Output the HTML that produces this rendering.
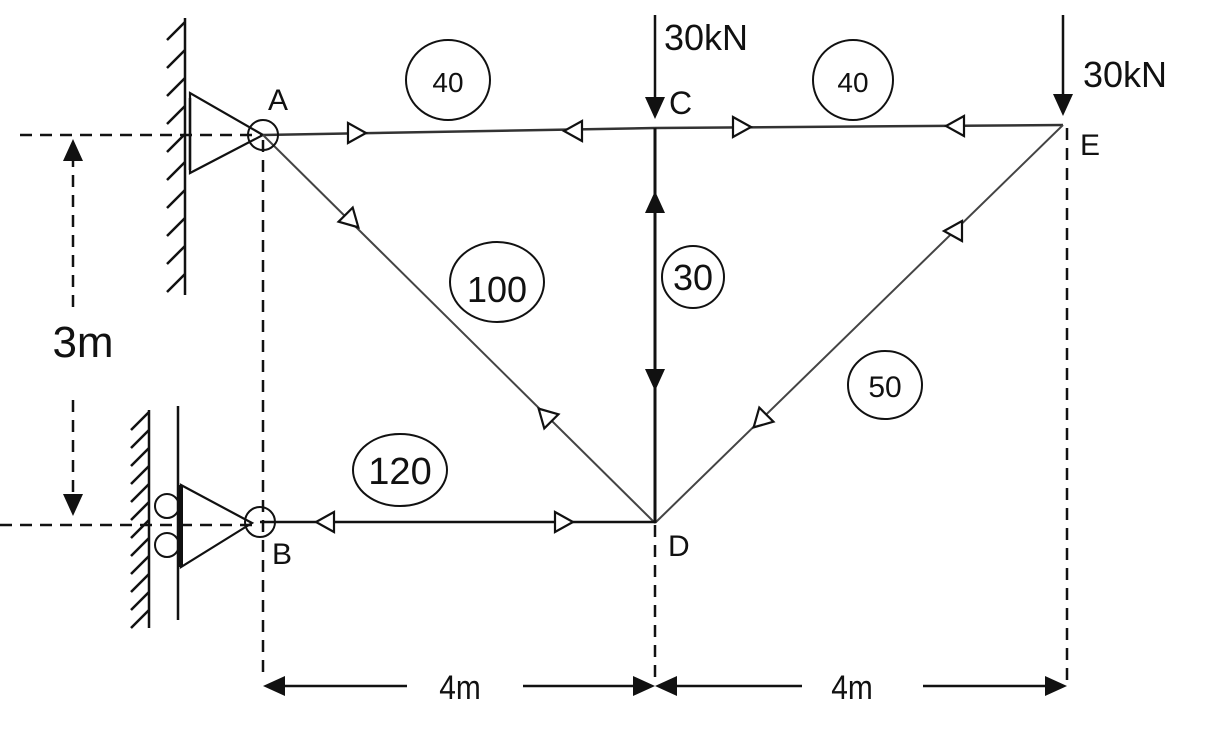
<!DOCTYPE html>
<html><head><meta charset="utf-8"><style>
html,body{margin:0;padding:0;background:#fff;}
svg{display:block;}
text{font-family:"Liberation Sans",sans-serif;fill:#111;}
</style></head><body>
<svg width="1205" height="732" viewBox="0 0 1205 732" xmlns="http://www.w3.org/2000/svg">
<defs>
<polygon id="ot" points="-9,-10 9,0 -9,10" fill="#fff" stroke="#111" stroke-width="2.2"/>
<polygon id="ft" points="-11,-10 11,0 -11,10" fill="#111"/>
</defs>
<g stroke="#111" stroke-width="2.5" stroke-dasharray="12,8" fill="none">
<line x1="20" y1="135" x2="263" y2="135"/>
<line x1="0" y1="525" x2="258" y2="525"/>
<line x1="263" y1="140" x2="263" y2="680"/>
<line x1="655" y1="525" x2="655" y2="680"/>
<line x1="1067" y1="128" x2="1067" y2="680"/>
<line x1="73" y1="155" x2="73" y2="310"/>
<line x1="73" y1="400" x2="73" y2="500"/>
</g>
<use href="#ft" transform="translate(73,150) rotate(-90)"/>
<use href="#ft" transform="translate(73,505) rotate(90)"/>
<text x="83" y="357" font-size="44" text-anchor="middle">3m</text>
<g stroke="#111" stroke-width="2.5">
<line x1="185" y1="18" x2="185" y2="295"/>
<path d="M185,22 l-18,18 M185,50 l-18,18 M185,78 l-18,18 M185,106 l-18,18 M185,134 l-18,18 M185,162 l-18,18 M185,190 l-18,18 M185,218 l-18,18 M185,246 l-18,18 M185,274 l-18,18"/>
<line x1="190" y1="98" x2="190" y2="170"/>
</g>
<polygon points="190,93 190,173 263,135" fill="none" stroke="#111" stroke-width="2.2"/>
<g stroke="#111" stroke-width="2.5">
<line x1="149" y1="410" x2="149" y2="628"/>
<path d="M149,412 l-18,18 M149,430 l-18,18 M149,448 l-18,18 M149,466 l-18,18 M149,484 l-18,18 M149,502 l-18,18 M149,520 l-18,18 M149,538 l-18,18 M149,556 l-18,18 M149,574 l-18,18 M149,592 l-18,18 M149,610 l-18,18"/>
<line x1="178" y1="406" x2="178" y2="620"/>
<line x1="181" y1="485" x2="181" y2="567" stroke-width="4"/>
</g>
<circle cx="167" cy="506" r="12" fill="none" stroke="#111" stroke-width="2"/>
<circle cx="167" cy="545" r="12" fill="none" stroke="#111" stroke-width="2"/>
<polygon points="181,485 181,567 252,523" fill="none" stroke="#111" stroke-width="2.2"/>
<g stroke="#333" stroke-width="2.5" fill="none">
<line x1="263" y1="135" x2="655" y2="128"/>
<line x1="655" y1="128" x2="1063" y2="125"/>
<line x1="263" y1="135" x2="655" y2="523" stroke="#444" stroke-width="2"/>
<line x1="1063" y1="125" x2="655" y2="523" stroke="#444" stroke-width="2"/>
<line x1="260" y1="522" x2="655" y2="522" stroke="#111"/>
<line x1="655" y1="128" x2="655" y2="523" stroke="#111" stroke-width="3"/>
</g>
<circle cx="263" cy="135" r="15" fill="none" stroke="#111" stroke-width="2"/>
<circle cx="260" cy="522" r="15" fill="none" stroke="#111" stroke-width="2"/>
<use href="#ot" transform="translate(357,133)"/>
<use href="#ot" transform="translate(573,131) rotate(180)"/>
<use href="#ot" transform="translate(742,127)"/>
<use href="#ot" transform="translate(955,126) rotate(180)"/>
<use href="#ot" transform="translate(325,522) rotate(180)"/>
<use href="#ot" transform="translate(564,522)"/>
<use href="#ot" transform="translate(352,221) rotate(45)"/>
<use href="#ot" transform="translate(545,415) rotate(225)"/>
<use href="#ot" transform="translate(953,231) rotate(180)"/>
<use href="#ot" transform="translate(760,421) rotate(135)"/>
<use href="#ft" transform="translate(655,202) rotate(-90)"/>
<use href="#ft" transform="translate(655,380) rotate(90)"/>
<line x1="655" y1="15" x2="655" y2="108" stroke="#111" stroke-width="2.5"/>
<use href="#ft" transform="translate(655,108) rotate(90)"/>
<line x1="1063" y1="15" x2="1063" y2="105" stroke="#111" stroke-width="2.5"/>
<use href="#ft" transform="translate(1063,105) rotate(90)"/>
<text x="664" y="50" font-size="36">30kN</text>
<text x="1083" y="87" font-size="36">30kN</text>
<text x="268" y="110" font-size="30">A</text>
<text x="669" y="114" font-size="32">C</text>
<text x="1080" y="155" font-size="30">E</text>
<text x="668" y="556" font-size="30">D</text>
<text x="272" y="564" font-size="30">B</text>
<g fill="none" stroke="#111" stroke-width="2">
<ellipse cx="448" cy="80" rx="42" ry="40"/>
<ellipse cx="853" cy="80" rx="40" ry="40"/>
<ellipse cx="497" cy="282" rx="47" ry="40"/>
<ellipse cx="693" cy="277" rx="31" ry="31"/>
<ellipse cx="885" cy="385" rx="37" ry="34"/>
<ellipse cx="400" cy="470" rx="47" ry="36"/>
</g>
<text x="448" y="92" font-size="28" text-anchor="middle">40</text>
<text x="853" y="92" font-size="28" text-anchor="middle">40</text>
<text x="497" y="302" font-size="36" text-anchor="middle">100</text>
<text x="693" y="290" font-size="36" text-anchor="middle">30</text>
<text x="885" y="397" font-size="30" text-anchor="middle">50</text>
<text x="400" y="484" font-size="38" text-anchor="middle">120</text>
<g stroke="#111" stroke-width="2.5">
<line x1="275" y1="686" x2="407" y2="686"/>
<line x1="523" y1="686" x2="643" y2="686"/>
<line x1="667" y1="686" x2="802" y2="686"/>
<line x1="923" y1="686" x2="1055" y2="686"/>
</g>
<use href="#ft" transform="translate(274,686) rotate(180)"/>
<use href="#ft" transform="translate(644,686)"/>
<use href="#ft" transform="translate(666,686) rotate(180)"/>
<use href="#ft" transform="translate(1056,686)"/>
<text x="460" y="699" font-size="34" text-anchor="middle" transform="translate(460,0) scale(0.88,1) translate(-460,0)">4m</text>
<text x="852" y="699" font-size="34" text-anchor="middle" transform="translate(852,0) scale(0.88,1) translate(-852,0)">4m</text>
</svg>
</body></html>
